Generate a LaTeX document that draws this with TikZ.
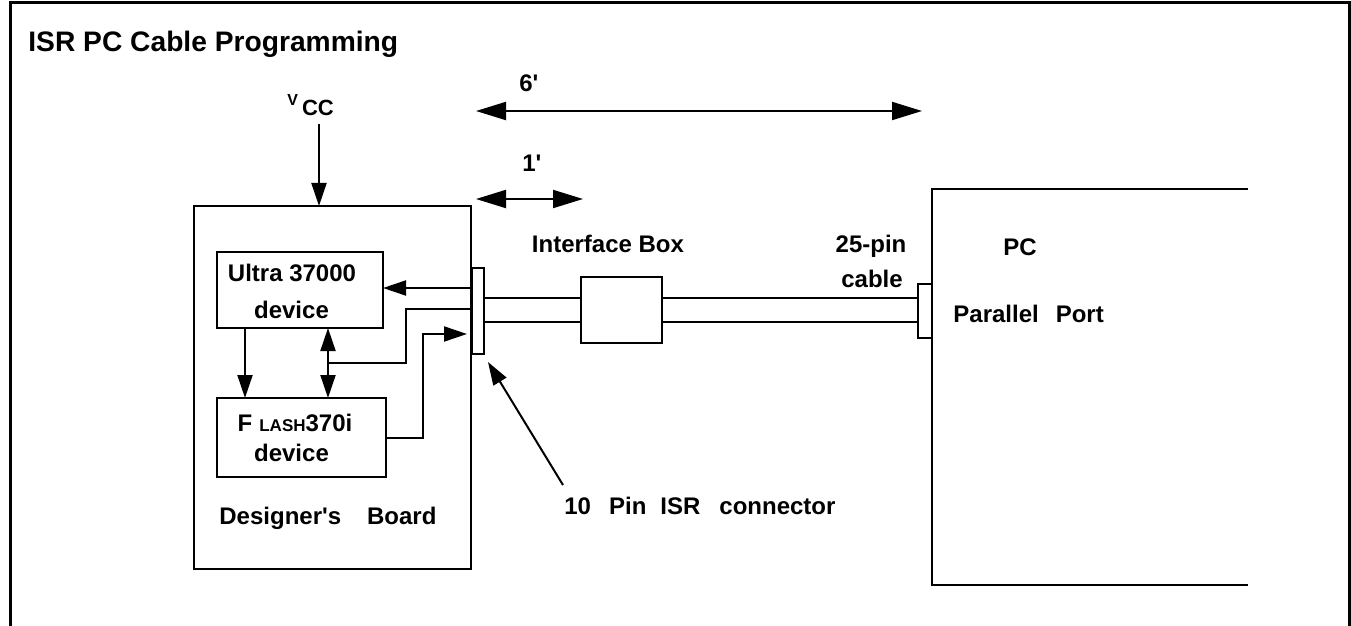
\documentclass[tikz,border=0pt]{standalone}
\usepackage{fontspec}
\setmainfont{Liberation Sans}
\usetikzlibrary{arrows.meta}
\tikzset{
  box/.style={draw, line width=1pt, inner sep=0pt, outer sep=0pt},
  wire/.style={line width=1pt},
  flow/.style={wire, -{Triangle[length=11.5pt, width=7.5pt]}},
  bothflow/.style={wire, {Triangle[length=11.5pt, width=7.5pt]}-{Triangle[length=11.5pt, width=7.5pt]}},
  dimline/.style={wire, {Triangle[length=15pt, width=9pt]}-{Triangle[length=15pt, width=9pt]}},
  lbl/.style={inner sep=0pt, anchor=base, font=\bfseries\fontsize{12}{14}\selectfont},
}
\begin{document}
\begin{tikzpicture}[x=0.5pt, y=-0.5pt]
  \useasboundingbox (0,0) rectangle (1351,626);
  % frame, open at the bottom
  \draw[line width=1.5pt] (10,626) -- (10,3) -- (1349,3) -- (1349,626);
  \node[lbl, anchor=base west, font=\bfseries\fontsize{14.1}{17}\selectfont] (title) at (28,52) {ISR PC Cable Programming};

  % boxes
  \node[box, minimum width=138.5pt, minimum height=181.5pt] (board) at (332.5,387.5) {};
  \node[box, minimum width=83pt, minimum height=38pt] (ultra) at (300,290) {};
  \node[box, minimum width=84.5pt, minimum height=39.5pt] (flash) at (301.5,437.5) {};
  \node[box, minimum width=6pt, minimum height=43pt] (conn) at (478,311) {};
  \node[box, minimum width=40.5pt, minimum height=33pt] (iface) at (621.5,310) {};
  \node[box, minimum width=7pt, minimum height=27pt] (pcport) at (925,311) {};
  \draw[wire] (1248,189) -- (932,189) -- (932,585) -- (1248,585); % PC, open on the right

  % texts
  \node[lbl] (ultraname) at (292,281) {Ultra 37000};
  \node[lbl] (ultradev) at (291.5,318) {device};
  \node[lbl] (flashname) at (295,431) {F\hspace{3.5pt}{\fontsize{8.5}{9}\selectfont LASH}370i};
  \node[lbl] (flashdev) at (291.5,461) {device};
  \node[lbl, anchor=base west] (boardname) at (219,524) {Designer\textquotesingle s\hspace{13pt}Board};
  \node[lbl] (ifacename) at (608,252) {Interface Box};
  \node[lbl] (pin25) at (871,253) {25-pin};
  \node[lbl] (cable) at (872,287) {cable};
  \node[lbl] (pcname) at (1020,256) {PC};
  \node[lbl, anchor=base west] (port) at (953,322) {Parallel\hspace{8.5pt}Port};
  \node[lbl, anchor=base west] (isr) at (564,514) {10\hspace{9pt}Pin\hspace{7pt}ISR\hspace{9.5pt}connector};

  % supply
  \node[lbl, anchor=base west] (vcc) at (287,106) {{\fontsize{8}{9}\selectfont V}\hspace{2pt}\raisebox{-5pt}{\fontsize{11}{12}\selectfont CC}};
  \coordinate (vin) at (319,124);
  \draw[flow] (vin) -- (vin |- board.north);

  % cable lengths
  \coordinate (sixL) at (476,111);
  \coordinate (sixR) at (922,111);
  \draw[dimline] (sixL) -- (sixR);
  \node[lbl, anchor=base west] (six) at (519,92) {6\textquotesingle};
  \coordinate (oneL) at (476,199);
  \coordinate (oneR) at (583,199);
  \draw[dimline] (oneL) -- (oneR);
  \node[lbl, anchor=base west] (one) at (522,172) {1\textquotesingle};

  % cable
  \coordinate (cabA) at (0,298);
  \coordinate (cabB) at (0,322);
  \draw[wire] (conn.east |- cabA) -- (iface.west |- cabA);
  \draw[wire] (conn.east |- cabB) -- (iface.west |- cabB);
  \draw[wire] (iface.east |- cabA) -- (pcport.west |- cabA);
  \draw[wire] (iface.east |- cabB) -- (pcport.west |- cabB);

  % board wiring
  \coordinate (lvA) at (0,288);
  \coordinate (lvB) at (0,309);
  \coordinate (lvC) at (0,334);
  \coordinate (lvF) at (0,438);
  \coordinate (junc) at (328,363);
  \coordinate (down) at (245,0);
  \draw[flow] (conn.west |- lvA) -- (ultra.east |- lvA);
  \draw[wire] (conn.west |- lvB) -- ++(-66,0) |- (junc);
  \draw[bothflow] (ultra.south -| junc) -- (flash.north -| junc);
  \draw[flow] (ultra.south -| down) -- (flash.north -| down);
  \draw[flow, shorten >=2.5pt] (flash.east |- lvF) -- ++(37,0) |- (conn.west |- lvC);

  % pointer to the connector
  \coordinate (pinTail) at (563,485);
  \coordinate (pinTip) at (488,362);
  \draw[flow] (pinTail) -- (pinTip);
\end{tikzpicture}
\end{document}
